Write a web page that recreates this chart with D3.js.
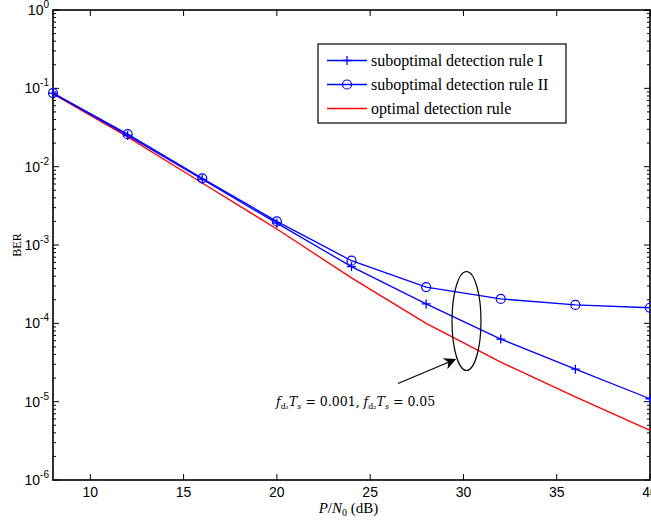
<!DOCTYPE html>
<html>
<head>
<meta charset="utf-8">
<script src="https://d3js.org/d3.v7.min.js"></script>
<style>
  body { margin: 0; background: #fff; }
  svg { display: block; }
</style>
</head>
<body>
<script>
// data
const snr = [8, 12, 16, 20, 24, 28, 32, 36, 40];
const berRuleI = [0.087, 0.025, 0.0069, 0.0019, 5.3e-4, 1.77e-4, 6.3e-5, 2.6e-5, 1.09e-5];
const berRuleII = [0.087, 0.026, 0.0071, 0.0020, 6.3e-4, 2.9e-4, 2.05e-4, 1.72e-4, 1.58e-4];
const berOptimal = [0.085, 0.024, 0.0062, 0.0016, 3.8e-4, 1.0e-4, 3.2e-5, 1.15e-5, 4.3e-6];
const xTicks = [10, 15, 20, 25, 30, 35, 40];
const yExponents = [0, -1, -2, -3, -4, -5, -6];
const legendLabels = ["suboptimal detection rule I", "suboptimal detection rule II", "optimal detection rule"];

const margin = {top: 10, right: 1, bottom: 43, left: 53},
width = 651 - margin.left - margin.right,
height = 523 - margin.top - margin.bottom;

const svg = d3.select("body")
.append("svg")
.attr("width", width + margin.left + margin.right)
.attr("height", height + margin.top + margin.bottom)
.append("g")
.attr("transform", `translate(${margin.left},${margin.top})`);

const x = d3.scaleLinear()
.domain([8, 40])
.range([0, width]);

const y = d3.scaleLog()
.domain([1e-6, 1])
.range([height, 0]);

const xr = x(40);

// minor / major log ticks on left and right
const minor = [];
for (let e = -6; e < 0; e++) {
  for (let m = 2; m <= 9; m++) minor.push(m * Math.pow(10, e));
}
const major = yExponents.map(e => Math.pow(10, e));

const ticks = svg.append("g").attr("stroke", "#000").attr("stroke-width", 1);
minor.forEach(v => {
  ticks.append("line").attr("x1", 0).attr("x2", 3).attr("y1", y(v)).attr("y2", y(v));
  ticks.append("line").attr("x1", xr).attr("x2", xr - 3).attr("y1", y(v)).attr("y2", y(v));
});
major.forEach(v => {
  ticks.append("line").attr("x1", 0).attr("x2", 6).attr("y1", y(v)).attr("y2", y(v));
  ticks.append("line").attr("x1", xr).attr("x2", xr - 6).attr("y1", y(v)).attr("y2", y(v));
});
xTicks.forEach(v => {
  ticks.append("line").attr("x1", x(v)).attr("x2", x(v)).attr("y1", height).attr("y2", height - 6);
  ticks.append("line").attr("x1", x(v)).attr("x2", x(v)).attr("y1", 0).attr("y2", 6);
});

// frame
svg.append("rect")
  .attr("x", 0).attr("y", 0)
  .attr("width", xr).attr("height", height)
  .attr("fill", "none")
  .attr("stroke", "#000")
  .attr("stroke-width", 1.6);

// x tick labels
svg.selectAll(".xlab")
  .data(xTicks)
  .enter()
  .append("text")
  .attr("x", d => x(d))
  .attr("y", height + 17)
  .attr("text-anchor", "middle")
  .style("font-family", "Liberation Sans, Arial, sans-serif")
  .style("font-size", "14px")
  .text(d => d);

// y tick labels 10^k
yExponents.forEach(e => {
  const t = svg.append("text")
    .attr("x", -4)
    .attr("y", y(Math.pow(10, e)) + 5)
    .attr("text-anchor", "end")
    .style("font-family", "Liberation Sans, Arial, sans-serif")
    .style("font-size", "14px");
  t.append("tspan").text("10");
  t.append("tspan")
    .attr("dy", -7)
    .style("font-size", "10px")
    .text(e === 0 ? "0" : "-" + (-e));
});

// X Axis Label
const xl = svg.append("text")
  .attr("text-anchor", "middle")
  .attr("x", x(24) - 3)
  .attr("y", height + 33)
  .style("font-family", "Liberation Serif, Times New Roman, serif")
  .style("font-size", "15px");
xl.append("tspan").style("font-style", "italic").text("P");
xl.append("tspan").text("/");
xl.append("tspan").style("font-style", "italic").text("N");
xl.append("tspan").attr("dy", 3).style("font-size", "10px").text("0");
xl.append("tspan").attr("dy", -3).text(" (dB)");

// Y Axis Label
svg.append("text")
  .attr("text-anchor", "middle")
  .attr("transform", `rotate(-90)`)
  .attr("x", -height / 2)
  .attr("y", -32)
  .style("font-family", "Liberation Serif, Times New Roman, serif")
  .style("font-size", "12px")
  .text("BER");

// curves
const line = d3.line()
  .x(d => x(d[0]))
  .y(d => y(d[1]));

const series = [
  {vals: berOptimal, color: "#ff0000"},
  {vals: berRuleI, color: "#0000ff"},
  {vals: berRuleII, color: "#0000ff"}
];

series.forEach(s => {
  svg.append("path")
    .datum(snr.map((v, i) => [v, s.vals[i]]))
    .attr("d", line)
    .attr("fill", "none")
    .attr("stroke", s.color)
    .attr("stroke-width", 1.3);
});

// markers
svg.selectAll(".plus")
  .data(snr.map((v, i) => [v, berRuleI[i]]))
  .enter()
  .append("path")
  .attr("d", d => {
    const cx = x(d[0]), cy = y(d[1]);
    return `M${cx - 4.5},${cy}H${cx + 4.5}M${cx},${cy - 4.5}V${cy + 4.5}`;
  })
  .attr("stroke", "#0000ff")
  .attr("stroke-width", 1.3);

svg.selectAll(".circ")
  .data(snr.map((v, i) => [v, berRuleII[i]]))
  .enter()
  .append("circle")
  .attr("cx", d => x(d[0]))
  .attr("cy", d => y(d[1]))
  .attr("r", 4.5)
  .attr("fill", "none")
  .attr("stroke", "#0000ff")
  .attr("stroke-width", 1.2);

// annotation: ellipse, arrow, text
svg.append("ellipse")
  .attr("cx", 466.5 - margin.left)
  .attr("cy", 321 - margin.top)
  .attr("rx", 14.5)
  .attr("ry", 49.5)
  .attr("fill", "none")
  .attr("stroke", "#000")
  .attr("stroke-width", 1.2);

svg.append("defs").append("marker")
  .attr("id", "arrow")
  .attr("viewBox", "0 0 10 10")
  .attr("refX", 9).attr("refY", 5)
  .attr("markerWidth", 16).attr("markerHeight", 12)
  .attr("markerUnits", "userSpaceOnUse")
  .attr("orient", "auto")
  .append("path")
  .attr("d", "M0,0L10,5L0,10L3,5Z")
  .attr("fill", "#000");

svg.append("line")
  .attr("x1", 398 - margin.left).attr("y1", 383.5 - margin.top)
  .attr("x2", 455 - margin.left).attr("y2", 359.5 - margin.top)
  .attr("stroke", "#000")
  .attr("stroke-width", 1.2)
  .attr("marker-end", "url(#arrow)");

const ann = svg.append("text")
  .attr("x", 276 - margin.left)
  .attr("y", 406 - margin.top)
  .style("font-family", "DejaVu Serif, serif")
  .style("font-size", "12.5px");
ann.append("tspan").style("font-style", "italic").text("f");
ann.append("tspan").attr("dy", 3).style("font-size", "8px").text("d\u2081");
ann.append("tspan").attr("dy", -3).style("font-style", "italic").text("T");
ann.append("tspan").attr("dy", 3).style("font-size", "8px").style("font-style", "italic").text("s");
ann.append("tspan").attr("dy", -3).text(" = 0.001, ");
ann.append("tspan").style("font-style", "italic").text("f");
ann.append("tspan").attr("dy", 3).style("font-size", "8px").text("d\u2082");
ann.append("tspan").attr("dy", -3).style("font-style", "italic").text("T");
ann.append("tspan").attr("dy", 3).style("font-size", "8px").style("font-style", "italic").text("s");
ann.append("tspan").attr("dy", -3).text(" = 0.05");

// legend
const lg = svg.append("g")
  .attr("transform", `translate(${318 - margin.left},${44 - margin.top})`);

lg.append("rect")
  .attr("width", 248)
  .attr("height", 79)
  .attr("fill", "#fff")
  .attr("stroke", "#000")
  .attr("stroke-width", 1.2);

legendLabels.forEach((lab, i) => {
  const ly = 16.5 + i * 24;
  lg.append("line")
    .attr("x1", 9).attr("x2", 49)
    .attr("y1", ly).attr("y2", ly)
    .attr("stroke", i === 2 ? "#ff0000" : "#0000ff")
    .attr("stroke-width", 1.3);
  if (i === 0) {
    lg.append("path")
      .attr("d", `M24.5,${ly}H33.5M29,${ly - 4.5}V${ly + 4.5}`)
      .attr("stroke", "#0000ff")
      .attr("stroke-width", 1.3);
  }
  if (i === 1) {
    lg.append("circle")
      .attr("cx", 29).attr("cy", ly).attr("r", 4.5)
      .attr("fill", "none")
      .attr("stroke", "#0000ff")
      .attr("stroke-width", 1.2);
  }
  lg.append("text")
    .attr("x", 53)
    .attr("y", ly + 5)
    .style("font-family", "Liberation Serif, Times New Roman, serif")
    .style("font-size", "16px")
    .text(lab);
});
</script>
</body>
</html>
